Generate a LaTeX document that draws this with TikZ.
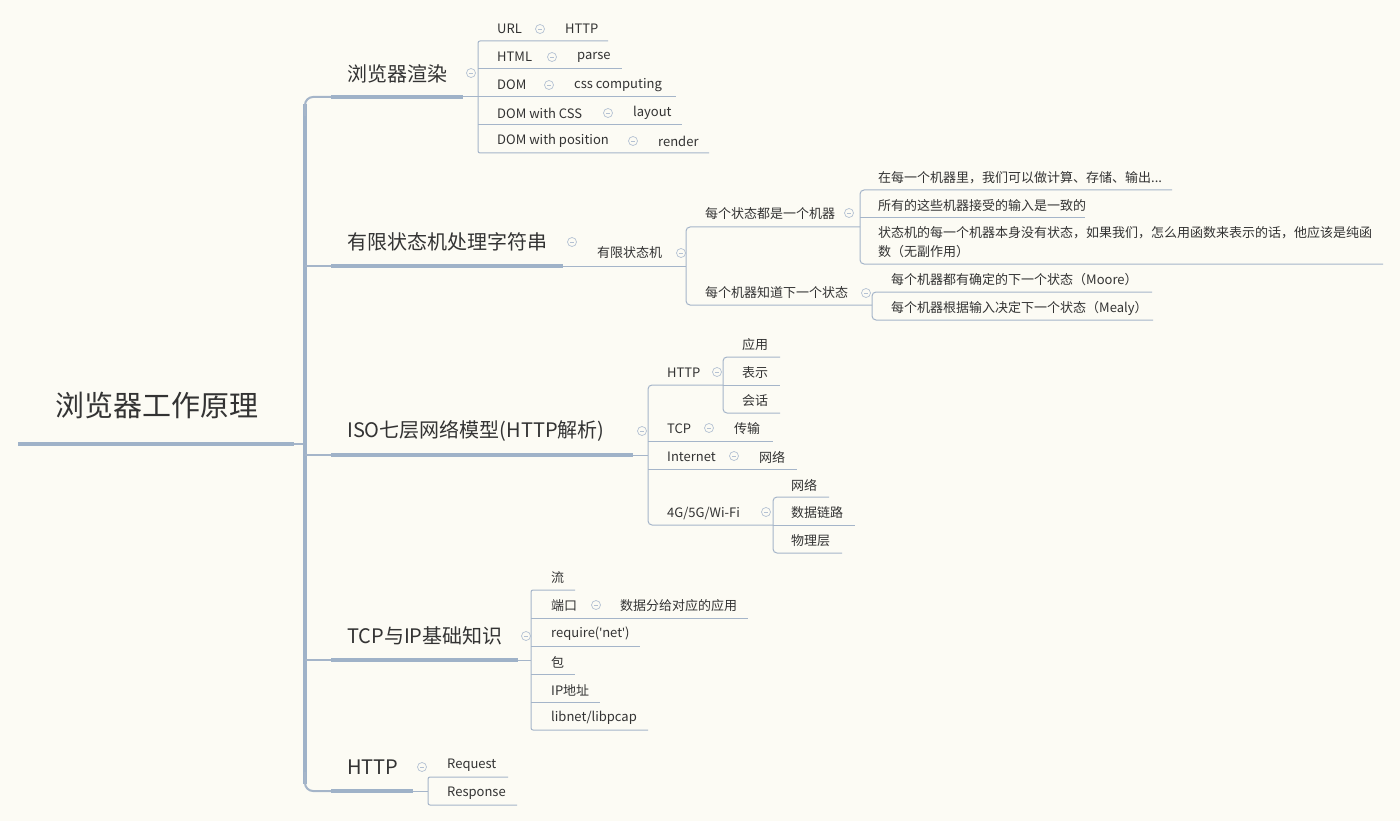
\documentclass[tikz,border=0pt]{standalone}
\usepackage{fontspec}
\setmainfont{Noto Sans CJK SC}
\newfontfamily\latf{Noto Sans}
\definecolor{bgc}{HTML}{FCFBF4}
\definecolor{trunkc}{HTML}{9FB2C8}
\definecolor{linec}{HTML}{A5B5C9}
\definecolor{textc}{HTML}{333333}
\definecolor{circc}{HTML}{B4C1D3}
\begin{document}
\begin{tikzpicture}[x=1pt,y=-1pt,
 txt/.style={font=\fontsize{13}{19}\selectfont, text=textc, inner sep=0pt, anchor=west, align=left},
 ltxt/.style={font=\fontsize{20}{24}\selectfont, text=textc, inner sep=0pt, anchor=west},
 rtxt/.style={font=\fontsize{29}{34}\selectfont, text=textc, inner sep=0pt, anchor=center},
 fine/.style={draw=linec, line width=1pt, rounded corners=4pt},
 heavy/.style={draw=trunkc, line width=4pt},
 link/.style={draw=linec, line width=2pt, rounded corners=8pt},
 col/.style={circle, draw=circc, line width=0.7pt, minimum size=9pt, inner sep=0pt,
   path picture={\draw[circc, line width=0.8pt] ([xshift=-2.2pt]path picture bounding box.center) -- ([xshift=2.2pt]path picture bounding box.center);}}]
\fill[bgc] (0,0) rectangle (1400,821);
\useasboundingbox (0,0) rectangle (1400,821);

% ---------- root and trunk ----------
\node[rtxt] (root) at (157,405) {浏览器工作原理};
\coordinate (rootL) at (18,444);
\coordinate (rootR) at (294,444);
\coordinate (tk) at (305,444);
\draw[heavy] (rootL) -- (rootR);
\draw[link] (rootR) -- (tk);
\coordinate (tkA) at (305,104);
\coordinate (tkB) at (305,784);
\draw[heavy, line width=4.5pt] (tkA) -- (tkB);

% ---------- level 1 ----------
\coordinate (u1s) at (331,97);  \coordinate (u1e) at (463,97);
\coordinate (u2s) at (331,266); \coordinate (u2e) at (563,266);
\coordinate (u3s) at (331,455); \coordinate (u3e) at (633,455);
\coordinate (u4s) at (331,660); \coordinate (u4e) at (518,660);
\coordinate (u5s) at (331,791); \coordinate (u5e) at (413,791);
\coordinate (k2) at (305,266); \coordinate (k3) at (305,455); \coordinate (k4) at (305,660);
\draw[link] (u1s) -- (tkA |- u1s) -- ([yshift=-12pt]tkA);
\draw[link] (u5s) -- (tkB |- u5s) -- ([yshift=12pt]tkB);
\draw[link] (k2) -- (u2s);
\draw[link] (k3) -- (u3s);
\draw[link] (k4) -- (u4s);
\foreach \i in {1,...,5} { \draw[heavy] (u\i s) -- (u\i e); }

\node[ltxt] (t1) at (347,74) {浏览器渲染};
\node[ltxt] (t2) at (347,242) {有限状态机处理字符串};
\node[ltxt] (t3) at (347,431) {ISO七层网络模型(HTTP解析)};
\node[ltxt] (t4) at (347,636) {TCP与IP基础知识};
\node[ltxt] (t5) at (347,767) {HTTP};
\node[col] (c1) at (471,73) {};
\node[col] (c2) at (572,242) {};
\node[col] (c3) at (642,431) {};
\node[col] (c4) at (526,636) {};
\node[col] (c5) at (422,767) {};

% ---------- 浏览器渲染 ----------
\coordinate (bv) at (478,97);
\draw[fine] (u1e) -- (bv);
\coordinate (b1e) at (608,41);  \coordinate (b2e) at (622,69); \coordinate (b3e) at (676,97);
\coordinate (b4e) at (682,125); \coordinate (b5e) at (709,153);
\draw[fine, rounded corners=2pt] (b1e) -- (bv |- b1e) -- (bv |- b5e) -- (b5e);
\draw[fine] (bv |- b2e) -- (b2e);
\draw[fine] (bv |- b3e) -- (b3e);
\draw[fine] (bv |- b4e) -- (b4e);
\node[txt] (b1) at (497,29) {URL};            \node[col] (cb1) at (540,29) {};  \node[txt] (b1c) at (565,29) {HTTP};
\node[txt] (b2) at (497,57) {HTML};           \node[col] (cb2) at (552,57) {};  \node[txt] (b2c) at (577,57) {parse};
\node[txt] (b3) at (497,85) {DOM};            \node[col] (cb3) at (549,85) {};  \node[txt] (b3c) at (574,85) {css computing};
\node[txt] (b4) at (497,113) {DOM with CSS};  \node[col] (cb4) at (608,113) {}; \node[txt] (b4c) at (633,113) {layout};
\node[txt] (b5) at (497,141) {DOM with position}; \node[col] (cb5) at (633,141) {}; \node[txt] (b5c) at (658,141) {render};

% ---------- 有限状态机 ----------
\coordinate (fv) at (686,266);
\draw[fine] (u2e) -- (fv);
\node[txt] (f0) at (597,253) {有限状态机};
\node[col] (cf0) at (681,253) {};
\coordinate (fa) at (860,227); \coordinate (fb) at (872,305);
\draw[fine] (fa) -- (fv |- fa) -- (fv |- fb) -- (fb);
\node[txt] (f1) at (705,214) {每个状态都是一个机器};
\node[col] (cf1) at (849,213) {};
\node[txt] (f2) at (705,293) {每个机器知道下一个状态};
\node[col] (cf2) at (866,293) {};
\coordinate (fa1) at (1172,190); \coordinate (fa2) at (1085,218); \coordinate (fa3) at (1383,264);
\draw[fine] (fa1) -- (fa |- fa1) -- (fa |- fa3) -- (fa3);
\draw[fine] (fa |- fa2) -- (fa2);
\node[txt] (f11) at (878,178) {在每一个机器里，我们可以做计算、存储、输出...};
\node[txt] (f12) at (878,206) {所有的这些机器接受的输入是一致的};
\node[txt] (f13) at (878,242.5) {状态机的每一个机器本身没有状态，如果我们，怎么用函数来表示的话，他应该是纯函\\数（无副作用）};
\coordinate (fb1) at (1152,292); \coordinate (fb2) at (1153,320);
\draw[fine] (fb1) -- (fb |- fb1) -- (fb |- fb2) -- (fb2);
\node[txt] (f21) at (891,280) {每个机器都有确定的下一个状态（Moore）};
\node[txt] (f22) at (891,308) {每个机器根据输入决定下一个状态（Mealy）};

% ---------- ISO ----------
\coordinate (iv) at (648,455);
\draw[fine] (u3e) -- (iv);
\coordinate (ia) at (723,385); \coordinate (id) at (773,525);
\coordinate (ib) at (773,441); \coordinate (ic) at (797,469);
\draw[fine] (ia) -- (iv |- ia) -- (iv |- id) -- (id);
\draw[fine] (iv |- ib) -- (ib);
\draw[fine] (iv |- ic) -- (ic);
\node[txt] (i1) at (667,373) {HTTP};        \node[col] (ci1) at (717,372) {};
\node[txt] (i2) at (667,429) {TCP};         \node[col] (ci2) at (709,428) {}; \node[txt] (i2c) at (734,429) {传输};
\node[txt] (i3) at (667,457) {Internet};    \node[col] (ci3) at (734,456) {}; \node[txt] (i3c) at (759,457) {网络};
\node[txt] (i4) at (667,513) {4G/5G/Wi-Fi}; \node[col] (ci4) at (766,512) {};
\coordinate (ia1) at (780,357); \coordinate (ia2) at (780,385); \coordinate (ia3) at (780,413);
\draw[fine] (ia1) -- (ia |- ia1) -- (ia |- ia3) -- (ia3);
\draw[fine] (ia) -- (ia2);
\node[txt] (i11) at (742,345) {应用};
\node[txt] (i12) at (742,373) {表示};
\node[txt] (i13) at (742,401) {会话};
\coordinate (id1) at (829,497); \coordinate (id2) at (855,525); \coordinate (id3) at (842,553);
\draw[fine] (id1) -- (id |- id1) -- (id |- id3) -- (id3);
\draw[fine] (id) -- (id2);
\node[txt] (i41) at (791,485) {网络};
\node[txt] (i42) at (791,513) {数据链路};
\node[txt] (i43) at (791,541) {物理层};

% ---------- TCP ----------
\coordinate (pv) at (531,660);
\draw[fine] (u4e) -- (pv);
\coordinate (p1e) at (575,590); \coordinate (p2e) at (748,618); \coordinate (p3e) at (640,646);
\coordinate (p4e) at (575,674); \coordinate (p5e) at (600,702); \coordinate (p6e) at (648,730);
\draw[fine, rounded corners=2pt] (p1e) -- (pv |- p1e) -- (pv |- p6e) -- (p6e);
\draw[fine] (pv |- p2e) -- (p2e);
\draw[fine] (pv |- p3e) -- (p3e);
\draw[fine] (pv |- p4e) -- (p4e);
\draw[fine] (pv |- p5e) -- (p5e);
\node[txt] (p1) at (551,578) {流};
\node[txt] (p2) at (551,606) {端口}; \node[col] (cp2) at (596,605) {}; \node[txt] (p2c) at (620,606) {数据分给对应的应用};
\node[txt] (p3) at (551,634) {require({\latf '}net{\latf '})};
\node[txt] (p4) at (551,662) {包};
\node[txt] (p5) at (551,690) {IP地址};
\node[txt] (p6) at (551,718) {libnet/libpcap};

% ---------- HTTP ----------
\coordinate (hv) at (428,791);
\draw[fine] (u5e) -- (hv);
\coordinate (h1e) at (508,777); \coordinate (h2e) at (517,805);
\draw[fine, rounded corners=2pt] (h1e) -- (hv |- h1e) -- (hv |- h2e) -- (h2e);
\node[txt] (h1) at (447,765) {Request};
\node[txt] (h2) at (447,793) {Response};
\end{tikzpicture}
\end{document}
